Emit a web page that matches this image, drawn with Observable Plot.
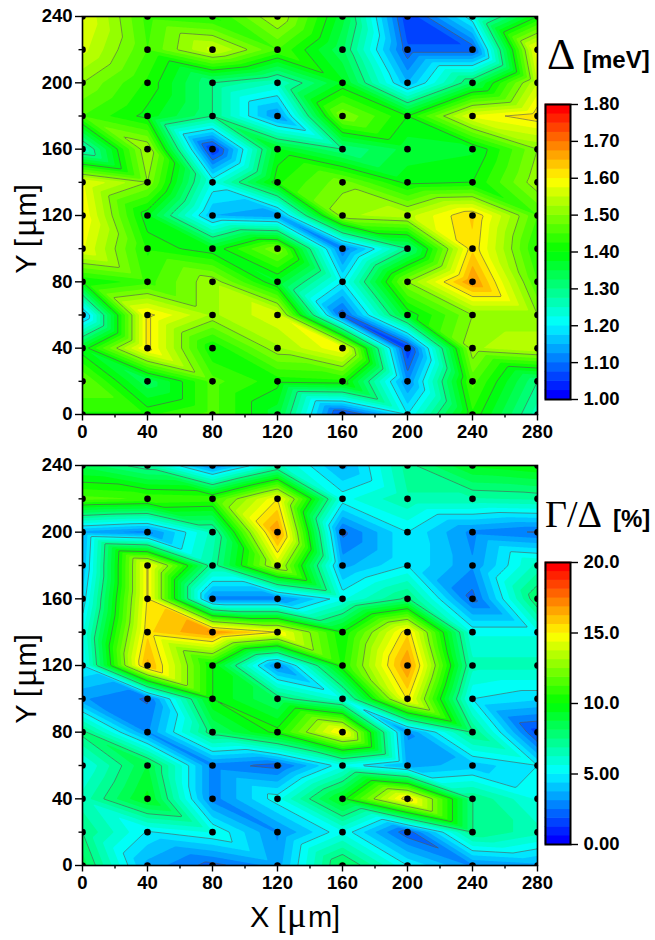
<!DOCTYPE html>
<html><head><meta charset="utf-8">
<script src="https://cdn.jsdelivr.net/npm/d3@7"></script>
<script src="https://cdn.jsdelivr.net/npm/@observablehq/plot@0.6"></script>
<style>
html,body{margin:0;padding:0;background:#fff;width:655px;height:940px;overflow:hidden}
#page{position:relative;width:655px;height:940px;font-family:"Liberation Sans",Arial,sans-serif;color:#000}
#page svg{position:absolute;overflow:visible;background:transparent}
.t{position:absolute;white-space:nowrap;line-height:1}
.g{font-family:"Liberation Serif",serif;font-size:1.25em;line-height:0;margin:0 1.5px}
</style></head><body><div id="page"></div>
<script>
const xValues=[0,40,80,120,160,200,240,280];
const yValues=[240,220,200,180,160,140,120,100,80,60,40,20,0];
const xMajor=[0,40,80,120,160,200,240,280];
const xMinor=[20,60,100,140,180,220,260];
const yMajor=[0,40,80,120,160,200,240];
const yMinor=[20,60,100,140,180,220];
const delta=[
[1.58,1.44,1.42,1.53,1.36,1.05,1.22,1.40],
[1.56,1.45,1.56,1.45,1.33,1.08,1.08,1.60],
[1.50,1.42,1.30,1.25,1.38,1.15,1.33,1.55],
[1.45,1.39,1.30,1.12,1.50,1.40,1.58,1.62],
[1.25,1.53,1.04,1.38,1.30,1.36,1.37,1.50],
[1.58,1.50,1.22,1.42,1.49,1.39,1.40,1.52],
[1.60,1.38,1.15,1.13,1.52,1.54,1.63,1.45],
[1.58,1.42,1.38,1.50,1.10,1.30,1.62,1.42],
[1.40,1.44,1.52,1.37,1.20,1.50,1.68,1.45],
[1.15,1.61,1.52,1.57,1.08,1.38,1.50,1.50],
[1.38,1.61,1.40,1.52,1.60,1.05,1.52,1.55],
[1.48,1.33,1.46,1.41,1.42,1.12,1.46,1.30],
[1.42,1.42,1.46,1.36,1.05,1.20,1.42,1.26]];
const ratio=[
[8.5,7,2.8,6.5,3.5,7.2,9.5,10],
[11.5,11.2,11,15,5.4,6.8,6.8,7],
[3.5,2.8,6.5,17,2.3,5,2.9,2.4],
[3.8,15.1,7,13.8,3.5,5,3.2,6.5],
[4.5,15.1,2.8,2.8,5.5,7.7,2.2,8.2],
[5.5,15.5,17,15,10,15.5,5.5,5.5],
[5,16.5,10,2.8,10.5,17,6.5,6.5],
[3.2,2.4,10,8,5.8,15.1,5,4.5],
[7.8,3,8,10.3,15.3,3,7.6,1.5],
[5.5,8.8,2.8,2.2,5.5,3.5,4,5],
[6.5,9.6,2.8,5.4,9.7,15.6,7.5,5.5],
[7.5,4.9,5.7,3,5.5,2,7.5,6.5],
[8.5,3.5,2.2,3.4,8.5,5,3,3.5]];
const deltaTicks=[1.0,1.1,1.2,1.3,1.4,1.5,1.6,1.7,1.8];
const deltaLabels=["1.00","1.10","1.20","1.30","1.40","1.50","1.60","1.70","1.80"];
const ratioTicks=[0,5,10,15,20];
const ratioLabels=["0.00","5.00","10.0","15.0","20.0"];
const rampColors=["#0000ff","#00ffff","#00ff00","#ffff00","#ff0000"];
const page=document.getElementById("page");
const FONT='"Liberation Sans",Arial,sans-serif';

function table(m){const r=[];yValues.forEach((y,i)=>xValues.forEach((x,j)=>r.push({x,y,v:m[i][j]})));return r;}
function levels(a,b,n){return d3.range(n).map(i=>a+(b-a)*i/n);}
// 32 bands whose first is pure blue and last is pure red
function bandColor(lo,hi){const top=hi-(hi-lo)/32;return {type:"linear",domain:d3.range(5).map(i=>lo+(top-lo)*i/4),range:rampColors};}

// Linear interpolation on the measurement grid: every cell is split along its top-left to bottom-right diagonal.
function gridInterpolate(index,w,h,X,Y,V){
  const I=Array.from(index);
  const gx=[...new Set(I.map(i=>X[i]))].sort(d3.ascending);
  const gy=[...new Set(I.map(i=>Y[i]))].sort(d3.ascending);
  const val=new Map(I.map(i=>[X[i]+"|"+Y[i],V[i]]));
  const W=new Float64Array(w*h);
  const bx=d3.bisector(d=>d).right;
  for(let j=0;j<h;j++)for(let i=0;i<w;i++){
    const px=i+.5,py=j+.5;
    const a0=Math.max(0,Math.min(gx.length-2,bx(gx,px)-1));
    const b0=Math.max(0,Math.min(gy.length-2,bx(gy,py)-1));
    const u=Math.max(0,Math.min(1,(px-gx[a0])/(gx[a0+1]-gx[a0])));
    const v=Math.max(0,Math.min(1,(py-gy[b0])/(gy[b0+1]-gy[b0])));
    const a=val.get(gx[a0]+"|"+gy[b0]),b=val.get(gx[a0+1]+"|"+gy[b0]),
          c=val.get(gx[a0]+"|"+gy[b0+1]),d=val.get(gx[a0+1]+"|"+gy[b0+1]);
    W[j*w+i]=u>=v? a+u*(b-a)+v*(d-b) : a+v*(c-a)+u*(d-c);
  }
  return W;
}

function panel({matrix,top,height,mt,mb,lo,hi}){
  const pts=table(matrix);
  const fine=levels(lo,hi,32), coarse=levels(lo,hi,8).slice(1);
  const axisText={fontSize:18.5,fontWeight:"bold",fill:"#000"};
  const svg=Plot.plot({
    width:655,height,marginLeft:82,marginRight:118,marginTop:mt,marginBottom:mb,
    style:{fontFamily:FONT,background:"transparent",overflow:"visible"},
    x:{domain:[0,280],axis:null},y:{domain:[0,240],axis:null},color:bandColor(lo,hi),
    marks:[
      Plot.contour(pts,{x:"x",y:"y",value:"v",fill:"value",interpolate:gridInterpolate,thresholds:fine,pixelSize:1,blur:0,stroke:"none",clip:true}),
      Plot.contour(pts,{x:"x",y:"y",value:"v",interpolate:gridInterpolate,thresholds:coarse,pixelSize:1,blur:0,fill:"none",stroke:"#555",strokeWidth:0.6,clip:true}),
      Plot.dot(pts,{x:"x",y:"y",r:3.3,fill:"#000",stroke:"none",clip:true}),
      Plot.frame({stroke:"#000",strokeWidth:1.6}),
      Plot.axisY(yMinor,{anchor:"left",tickSize:3.5,tickFormat:()=>"",label:null,strokeWidth:1.4,stroke:"#000"}),
      Plot.axisY(yMajor,{anchor:"left",tickSize:7,tickPadding:3,label:null,strokeWidth:1.4,stroke:"#000",...axisText}),
      Plot.axisX(xMinor,{anchor:"bottom",tickSize:3.5,tickFormat:()=>"",label:null,strokeWidth:1.4,stroke:"#000"}),
      Plot.axisX(xMajor,{anchor:"bottom",tickSize:6.5,tickPadding:4,label:null,strokeWidth:1.4,stroke:"#000",...axisText})
    ]
  });
  svg.style.left="0px";svg.style.top=top+"px";
  page.appendChild(svg);
}

function bar({top,height,lo,hi,ticks,labels}){
  const step=(hi-lo)/32;
  const bands=levels(lo,hi,32);
  const svg=Plot.plot({
    width:115,height:height+20,marginLeft:5,marginRight:85,marginTop:10,marginBottom:10,
    style:{fontFamily:FONT,background:"transparent",overflow:"visible"},
    x:{domain:[0,1],axis:null},y:{domain:[lo,hi],axis:null},
    color:bandColor(lo,hi),
    marks:[
      Plot.rect(bands,{x1:0,x2:1,y1:d=>d,y2:d=>d+step,fill:d=>d,inset:-0.3}),
      Plot.frame({stroke:"#000",strokeWidth:2}),
      Plot.axisY(ticks,{anchor:"right",tickSize:7,tickPadding:6,tickFormat:d=>labels[ticks.indexOf(d)],label:null,fontSize:18.5,fontWeight:"bold",stroke:"#000",fill:"#000",strokeWidth:1.4})
    ]
  });
  svg.style.left="540px";svg.style.top=(top-10)+"px";
  page.appendChild(svg);
}

function text(html,left,baseline,size,extra){
  const d=document.createElement("div");d.className="t";d.innerHTML=html;
  d.style.left=left+"px";d.style.top=(baseline-0.8465*size)+"px";d.style.fontSize=size+"px";
  if(extra)Object.assign(d.style,extra);page.appendChild(d);return d;
}
function yLabel(cy){
  const d=document.createElement("div");d.className="t";
  d.innerHTML='Y [<span class="g">&mu;</span>m]';
  d.style.fontSize="29px";d.style.left="11.5px";d.style.top=cy+"px";
  d.style.transformOrigin="0 0";d.style.transform="rotate(-90deg) translate(-50%,0)";
  page.appendChild(d);
}

panel({matrix:delta,top:0,height:440,mt:16,mb:26,lo:1,hi:1.8});
panel({matrix:ratio,top:450,height:490,mt:15,mb:75,lo:0,hi:20});
bar({top:104,height:295,lo:1,hi:1.8,ticks:deltaTicks,labels:deltaLabels});
bar({top:562,height:282,lo:0,hi:20,ticks:ratioTicks,labels:ratioLabels});
yLabel(229);yLabel(679);
text('X [<span class="g">&mu;</span>m]',250,928,29);
text('&Delta;',547,70,44,{fontFamily:'"Liberation Serif",serif'});
text('[meV]',583,68,24,{fontWeight:"bold"});
text('&Gamma;/&Delta;',545,527,38,{fontFamily:'"Liberation Serif",serif'});
text('[%]',613,527,24,{fontWeight:"bold"});
</script></body></html>
